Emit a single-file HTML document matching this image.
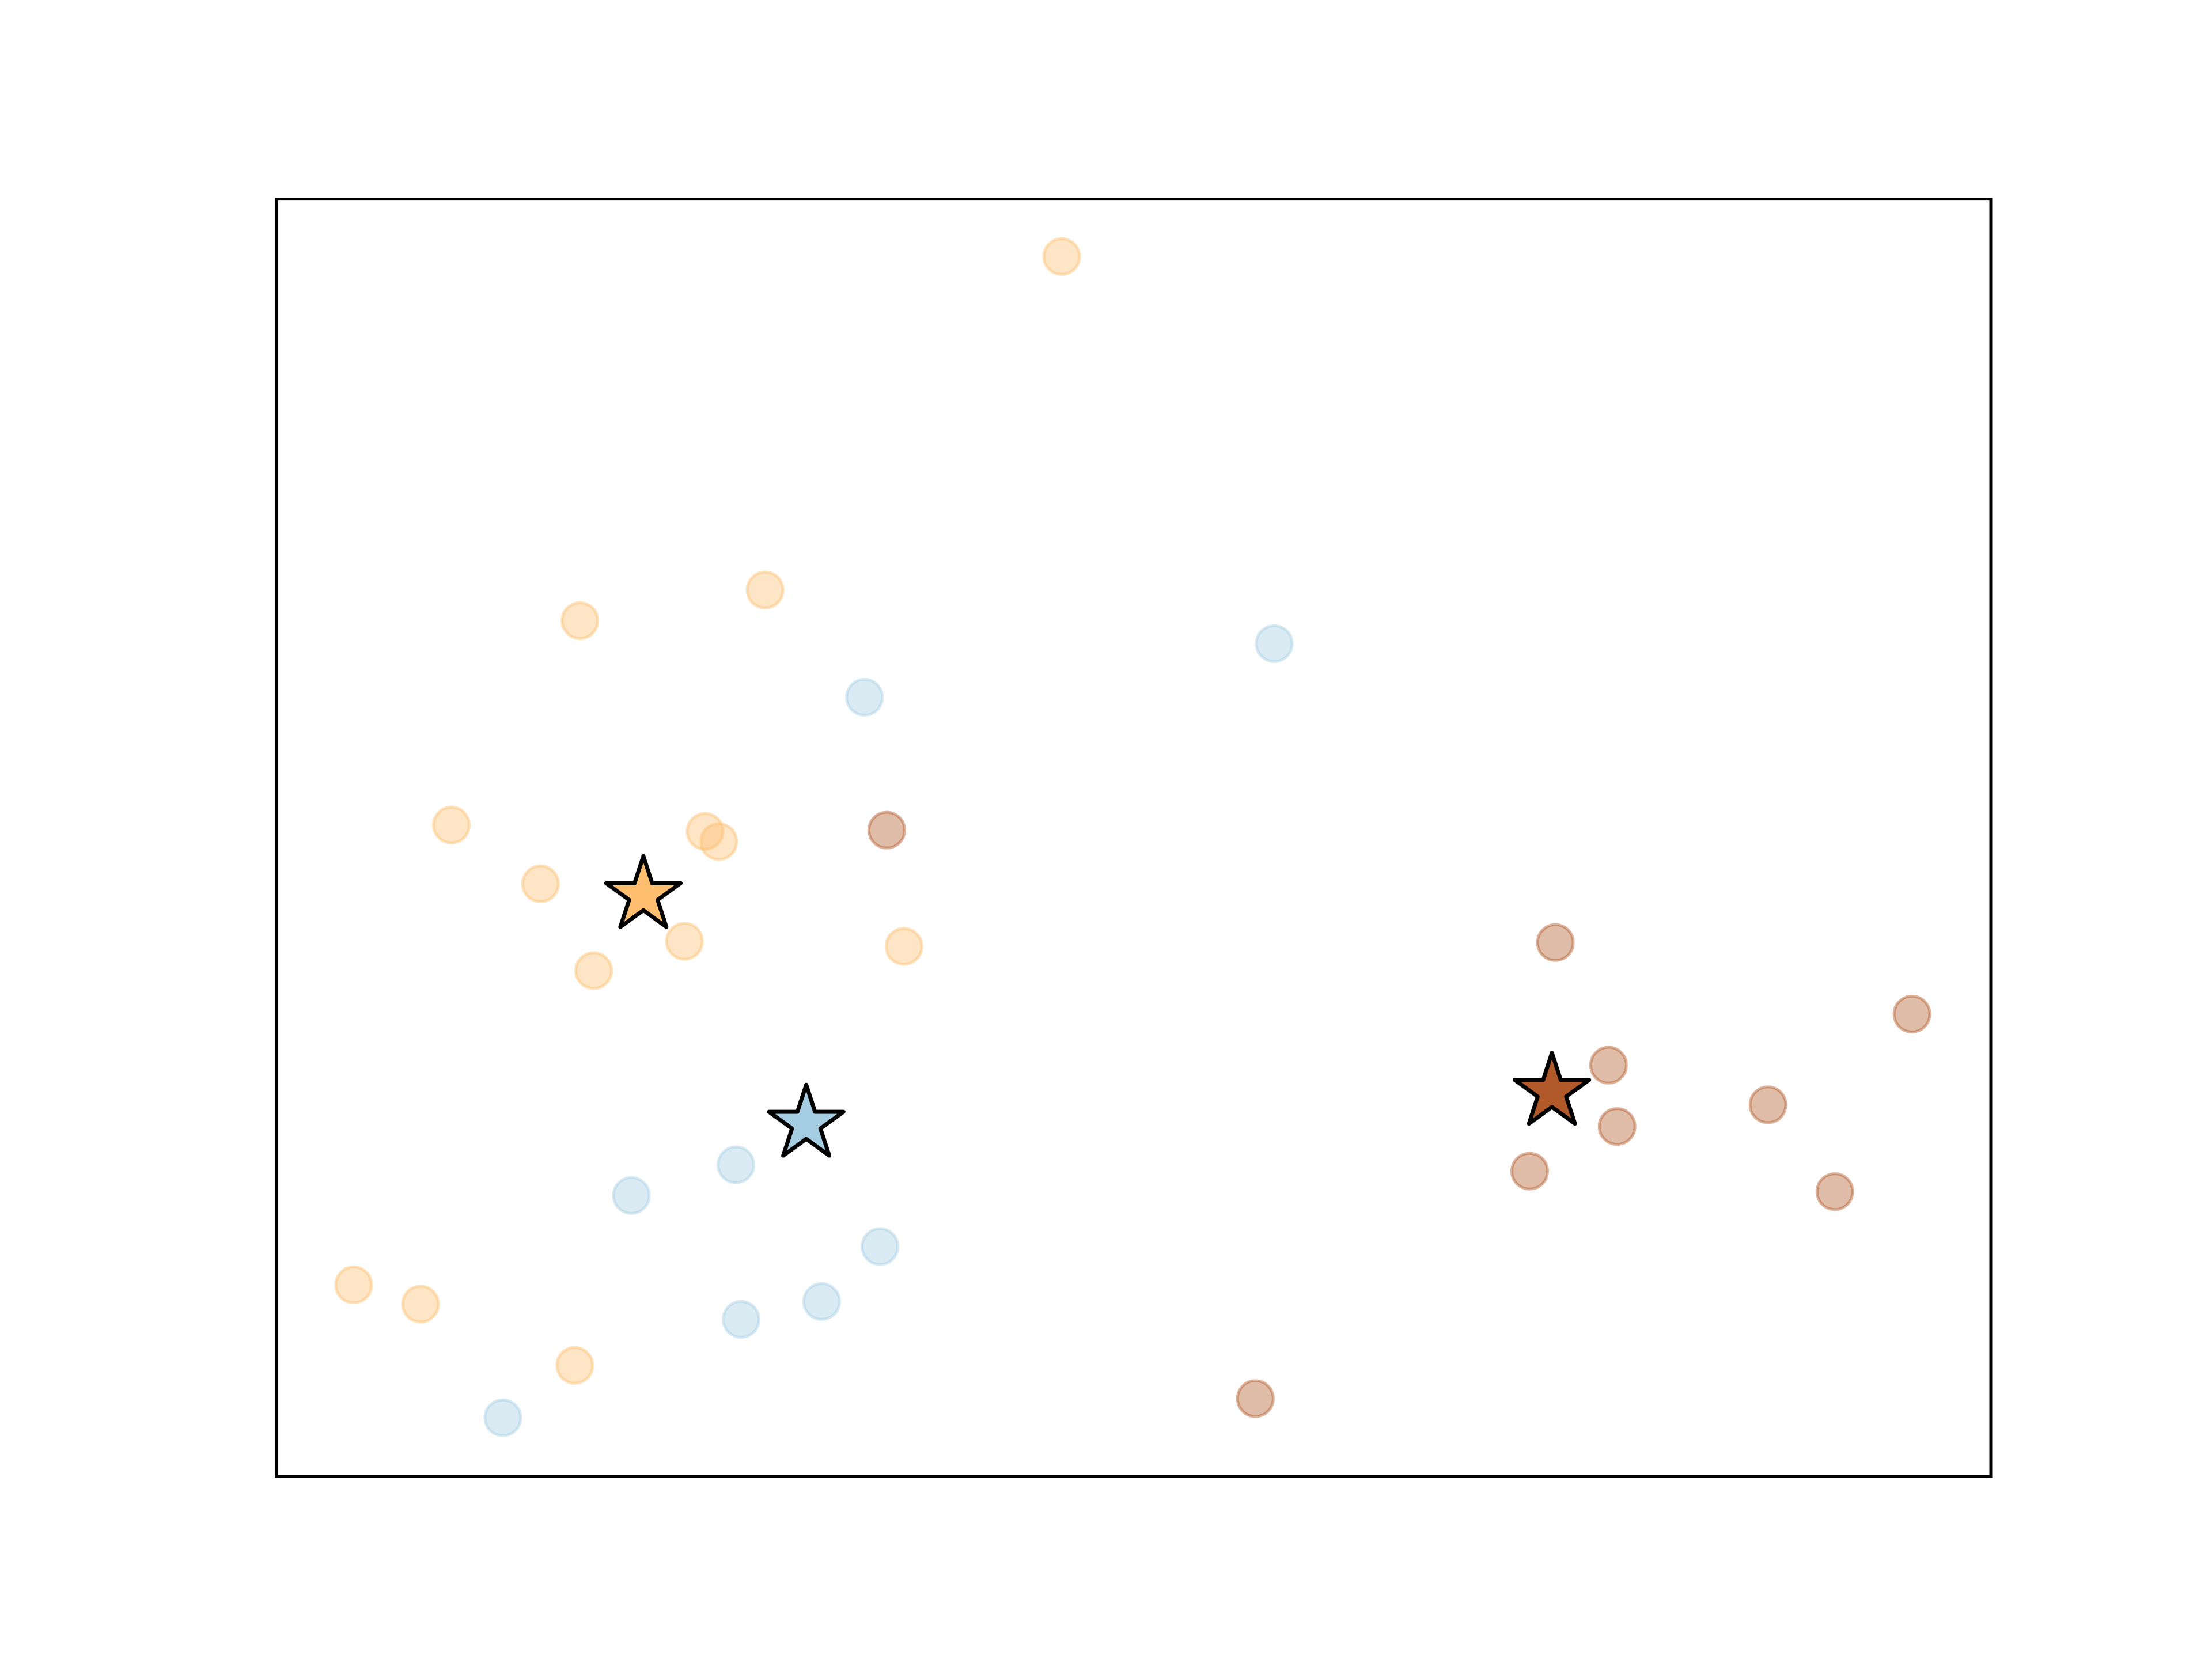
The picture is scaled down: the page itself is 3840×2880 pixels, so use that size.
<!DOCTYPE html>
<html><head><meta charset="utf-8"><style>html,body{margin:0;padding:0;background:#fff}svg{display:block}</style></head>
<body>
<svg id="chart" width="3840" height="2880" viewBox="0 0 3840 2880" xmlns="http://www.w3.org/2000/svg">
<rect width="3840" height="2880" fill="#fff"/>
<g id="marks"></g>
<rect x="480" y="345.6" width="2976" height="2217.6" fill="none" stroke="#000" stroke-width="5"/>
</svg>
<script>
const orangeX=[4.58,1.77,2.85,1.02,1.54,2.50,2.58,2.38,1.85,3.66,0.45,0.84,1.74];
const orangeY=[9.55,6.70,6.94,5.10,4.64,5.05,4.97,4.19,3.96,4.15,1.50,1.35,0.87];
const blueX=[5.82,3.43,2.07,2.68,3.52,3.18,2.71,1.32];
const blueY=[6.52,6.10,2.20,2.44,1.80,1.37,1.23,0.46];
const brownX=[3.56,7.46,9.54,7.77,7.82,8.70,7.31,9.09,5.71];
const brownY=[5.06,4.18,3.62,3.22,2.74,2.91,2.39,2.23,0.61];
const centerX=[2.14,3.09,7.44];
const centerY=[4.55,2.76,3.01];
const clusterColors=['#fdbf6f','#a6cee3','#b15928'];
const clusterNames=['orange','blue','brown'];

const X0=480,X1=3456,Y0=2563.2,Y1=345.6;
function sx(v){return X0+(v/10)*(X1-X0);}
function sy(v){return Y0-(v/10)*(Y0-Y1);}
const g=document.getElementById('marks');
const NS='http://www.w3.org/2000/svg';
function pts(xs,ys,ci){
  for(let i=0;i<xs.length;i++){
    const c=document.createElementNS(NS,'circle');
    c.setAttribute('cx',sx(xs[i]));c.setAttribute('cy',sy(ys[i]));c.setAttribute('r',31);
    c.setAttribute('fill',clusterColors[ci]);c.setAttribute('fill-opacity',0.4);
    c.setAttribute('stroke',clusterColors[ci]);c.setAttribute('stroke-opacity',0.45);c.setAttribute('stroke-width',5);
    
    
    g.appendChild(c);
  }
}
pts(orangeX,orangeY,0);pts(blueX,blueY,1);pts(brownX,brownY,2);
for(let k=0;k<centerX.length;k++){
  const cx=sx(centerX[k]),cy=sy(centerY[k]);const R=68,r=R*0.382;let d='';
  for(let i=0;i<10;i++){const a=-Math.PI/2+i*Math.PI/5;const rr=i%2?r:R;d+=(i?'L':'M')+(cx+rr*Math.cos(a)).toFixed(1)+','+(cy+rr*Math.sin(a)).toFixed(1);}
  const p=document.createElementNS(NS,'path');
  p.setAttribute('d',d+'Z');p.setAttribute('fill',clusterColors[k]);p.setAttribute('stroke','#000');
  p.setAttribute('stroke-width',7);p.setAttribute('stroke-linejoin','round');
  
  
  g.appendChild(p);
}
</script>
</body></html>
